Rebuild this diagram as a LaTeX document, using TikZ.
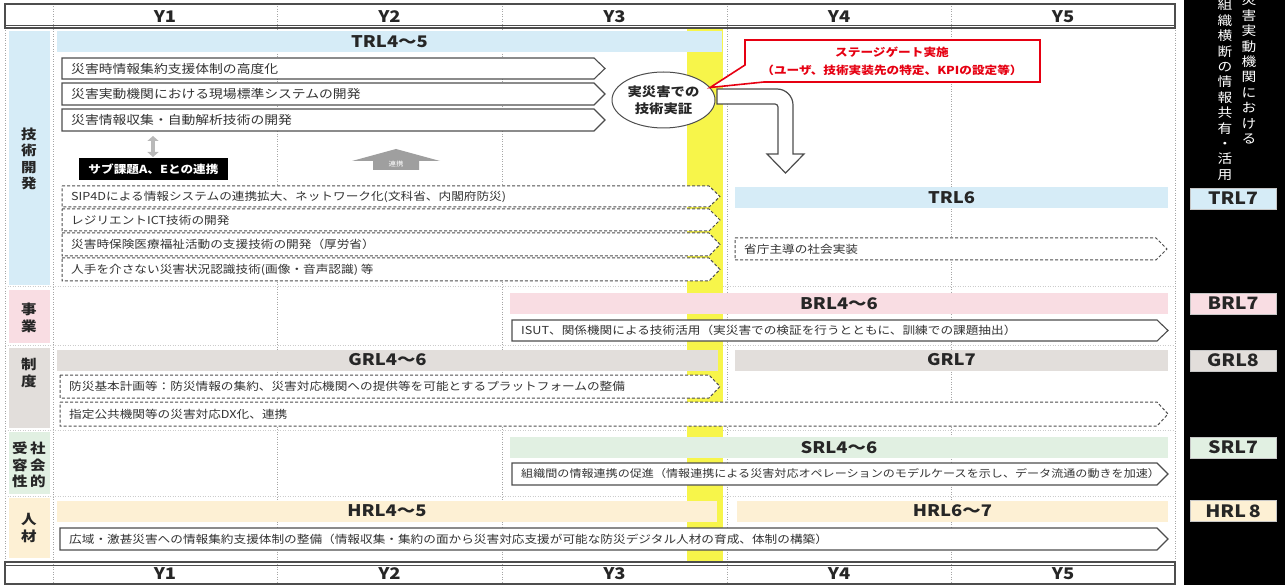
\documentclass[tikz,border=0pt]{standalone}
\usepackage{fontspec}
\setmainfont{Noto Sans CJK JP}[FakeStretch=1.15]
\usetikzlibrary{arrows.meta,shapes.geometric}
\definecolor{cblue}{HTML}{D6ECF7}
\definecolor{cpink}{HTML}{F9DDE3}
\definecolor{cgrey}{HTML}{E2DEDB}
\definecolor{cgreen}{HTML}{E1F0E2}
\definecolor{cbeige}{HTML}{FDF0D4}
\definecolor{cyel}{HTML}{F7F54A}
\definecolor{cred}{HTML}{E60012}
\definecolor{ctxt}{HTML}{333333}
\definecolor{cline}{HTML}{4D4D4D}
\newcommand\pent[7]{%
  \draw[#1] (#2,#3) -- ({#4-11},#3) -- (#4,{(#3+#5)/2}) -- ({#4-11},#5) -- (#2,#5) -- cycle;
  \node[smalltxt, anchor=west] (#6) at ({#2+9},{(#3+#5)/2}) {#7};}
\begin{document}
\begin{tikzpicture}[x=1pt,y=-1pt,
  smalltxt/.style={font=\fontsize{11}{13}\selectfont, text=ctxt, inner sep=0pt},
  lvl/.style={font=\bfseries\fontsize{16}{18}\selectfont, text=black!85, inner sep=0pt, minimum height=21pt},
  rbox/.style={draw=gray!45, line width=0.8pt, font=\bfseries\fontsize{17}{19}\selectfont, text=black!85, minimum width=86pt, minimum height=21pt, inner sep=0pt},
  yr/.style={font=\bfseries\fontsize{16}{18}\selectfont, text=black!85, inner sep=0pt},
  lab/.style={font=\bfseries\fontsize{13.5}{16.5}\selectfont, align=center, text=black!85, inner sep=0pt},
  vtxt/.style={font=\fontsize{12.8}{15.4}\selectfont, text=white, align=center, inner sep=0pt, anchor=north},
  gridline/.style={draw=gray!70, line width=0.7pt, dash pattern=on 1pt off 1.5pt},
  sepline/.style={draw=gray!40, line width=0.6pt, dash pattern=on 1pt off 1.5pt},
  hdr/.style={draw=cline, line width=1.2pt},
  solidp/.style={draw=cline, line width=1.1pt, fill=white},
  dashp/.style={draw=cline, line width=1pt, dash pattern=on 3pt off 2pt, fill=white}
]
\useasboundingbox (0,0) rectangle (1285,585);
\fill[white] (0,0) rectangle (1285,585);
% black column
\fill[black] (1184,0) rectangle (1285,585);
\node[vtxt] (vr) at (1249,-6) {災\\害\\実\\動\\機\\関\\に\\お\\け\\る};
\node[vtxt] (vl) at (1225,-1) {組\\織\\横\\断\\の\\情\\報\\共\\有\\・\\活\\用};
% grid
\foreach \gx in {53,277,502,727,951} \draw[gridline] (\gx,4) -- (\gx,584);
\draw[gridline] (5,28) -- (5,562);
\draw[gridline] (1175,28) -- (1175,562);
\foreach \gy in {286,345.5,430,496} \draw[sepline] (5,\gy) -- (1175,\gy);
% yellow gate
\fill[cyel] (687,28) rectangle (723,562);
% headers
\draw[hdr] (5,4) rectangle (1175,28);
\draw[cline, line width=0.8pt] (5,25) -- (1175,25);
\draw[hdr] (5,562) rectangle (1175,584);
\draw[cline, line width=0.8pt] (5,565) -- (1175,565);
\node[yr] (ht1) at (165,16.5) {Y1};
\node[yr] (ht2) at (389.5,16.5) {Y2};
\node[yr] (ht3) at (614.5,16.5) {Y3};
\node[yr] (ht4) at (839,16.5) {Y4};
\node[yr] (ht5) at (1063,16.5) {Y5};
\node[yr] (hb1) at (165,574) {Y1};
\node[yr] (hb2) at (389.5,574) {Y2};
\node[yr] (hb3) at (614.5,574) {Y3};
\node[yr] (hb4) at (839,574) {Y4};
\node[yr] (hb5) at (1063,574) {Y5};
% left cells
\fill[cblue] (9,31) rectangle (50,285);
\fill[cpink] (9,290) rectangle (50,343);
\fill[cgrey] (9,348) rectangle (50,428);
\fill[cgreen] (9,432) rectangle (50,494);
\fill[cbeige] (9,498) rectangle (50,558);
\node[lab] (lt) at (29,159) {技\\術\\開\\発};
\node[lab] (lb) at (29,318) {事\\業};
\node[lab] (ls) at (29,373) {制\\度};
\node[lab] (lsa) at (38,465) {社\\会\\的};
\node[lab] (lsb) at (20,465) {受\\容\\性};
\node[lab] (lh) at (29,528) {人\\材};
% level bars
\node[lvl, fill=cblue, minimum width=665pt] (trla) at (389.5,42) {TRL4～5};
\node[lvl, fill=cblue, minimum width=433pt] (trlb) at (951.5,197.5) {TRL6};
\node[lvl, fill=cpink, minimum width=658pt] (brla) at (839,304) {BRL4～6};
\node[lvl, fill=cgrey, minimum width=661pt] (grla) at (387.5,360) {GRL4～6};
\node[lvl, fill=cgrey, minimum width=433pt] (grlb) at (951.5,360) {GRL7};
\node[lvl, fill=cgreen, minimum width=658pt] (srla) at (839,447.5) {SRL4～6};
\node[lvl, fill=cbeige, minimum width=660pt] (hrla) at (387,511) {HRL4～5};
\node[lvl, fill=cbeige, minimum width=431pt] (hrlb) at (952.5,511) {HRL6～7};
% right level boxes
\node[rbox, fill=cblue] (trlc) at (1233,198.5) {TRL7};
\node[rbox, fill=cpink] (brlc) at (1233,303.5) {BRL7};
\node[rbox, fill=cgrey] (grlc) at (1233,360.5) {GRL8};
\node[rbox, fill=cgreen] (srlc) at (1233,447.5) {SRL7};
\node[rbox, fill=cbeige] (hrlc) at (1233,511) {HRL\,8};
% technology rows
\pent{solidp}{62}{58}{605}{79}{s1}{\fontsize{12}{14}\selectfont 災害時情報集約支援体制の高度化}
\pent{solidp}{62}{83}{605}{105}{s2}{\fontsize{12}{14}\selectfont 災害実動機関における現場標準システムの開発}
\pent{solidp}{62}{109}{605}{131}{s3}{\fontsize{12}{14}\selectfont 災害情報収集・自動解析技術の開発}
\pent{dashp}{62}{186}{720}{207}{d1}{SIP4Dによる情報システムの連携拡大、ネットワーク化(文科省、内閣府防災)}
\pent{dashp}{62}{209}{720}{231}{d2}{レジリエントICT技術の開発}
\pent{dashp}{62}{233}{720}{256}{d3}{災害時保険医療福祉活動の支援技術の開発（厚労省）}
\pent{dashp}{62}{258}{720}{281}{d4}{人手を介さない災害状況認識技術(画像・音声認識) 等}
\pent{dashp}{735}{238}{1167}{260}{d5}{省庁主導の社会実装}
% sub-topic links
\coordinate (ua) at (153,136);
\coordinate (ub) at (153,157);
\draw[gray!55, line width=4pt, {Triangle[width=11pt,length=5pt]}-{Triangle[width=11pt,length=5pt]}] (ua) -- (ub);
\node[fill=black, text=white, font=\bfseries\fontsize{11}{13}\selectfont, minimum width=149pt, minimum height=22pt, inner sep=0pt] (sub) at (153.5,169) {サブ課題A、Eとの連携};
\fill[gray!75] (352,161) -- (396,149) -- (440,161) -- (419,161) -- (419,170) -- (373,170) -- (373,161) -- cycle;
\node[text=white, font=\fontsize{6.5}{7}\selectfont, inner sep=0pt] (rk) at (396,164.5) {連携};
% verification ellipse
\node[ellipse, draw=cline, line width=1pt, fill=white, minimum width=103pt, minimum height=56pt, inner sep=0pt, align=center, font=\bfseries\fontsize{12.5}{17}\selectfont, text=black!85] (ev) at (663.5,100) {実災害での\\技術実証};
% stage gate callout
\draw[draw=cred, line width=1.6pt, fill=white, line join=miter] (745,40) -- (1040,40) -- (1040,82) -- (764,82) -- (ev.15) -- (745,65) -- cycle;
\node[text=cred, font=\bfseries\fontsize{11}{13}\selectfont, inner sep=0pt] (sg1) at (892,52) {ステージゲート実施};
\node[text=cred, font=\bfseries\fontsize{11}{13}\selectfont, inner sep=0pt] (sg2) at (892,70) {（ユーザ、技術実装先の特定、KPIの設定等）};
% big bent arrow
\draw[draw=cline, line width=1.2pt, fill=white] (717,89) [rounded corners=16pt] -- (793,89) -- (793,125) [sharp corners] -- (793,154) -- (804,154) -- (785.5,173) -- (767,154) -- (778,154) -- (778,125) [rounded corners=3pt] -- (778,104) -- (740,104) [sharp corners] -- (717,104) -- cycle;
% business row
\pent{solidp}{512}{320}{1168}{341}{p1}{ISUT、関係機関による技術活用（実災害での検証を行うとともに、訓練での課題抽出）}
% system row
\pent{dashp}{60}{375}{720}{398}{d6}{防災基本計画等：防災情報の集約、災害対応機関への提供等を可能とするプラットフォームの整備}
\pent{dashp}{60}{402}{1168}{426}{d7}{指定公共機関等の災害対応DX化、連携}
% social row
\pent{solidp}{512}{463}{1168}{485}{p2}{\fontsize{10.5}{12}\selectfont 組織間の情報連携の促進（情報連携による災害対応オペレーションのモデルケースを示し、データ流通の動きを加速）}
% human row
\pent{solidp}{60}{528}{1168}{550}{p3}{広域・激甚災害への情報集約支援体制の整備（情報収集・集約の面から災害対応支援が可能な防災デジタル人材の育成、体制の構築）}
\end{tikzpicture}
\end{document}
